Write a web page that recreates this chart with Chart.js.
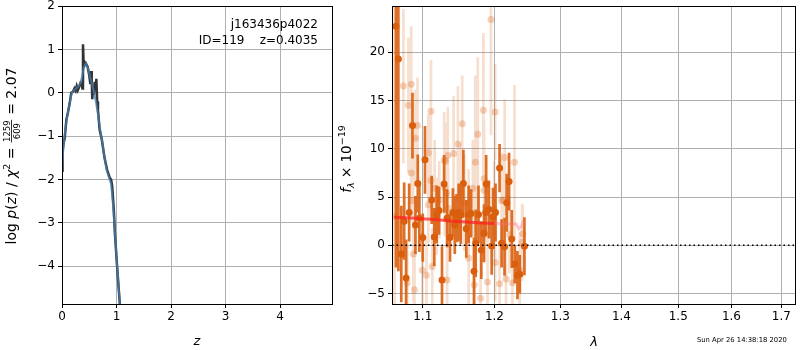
<!DOCTYPE html>
<html><head><meta charset="utf-8">
<script src="https://cdn.jsdelivr.net/npm/chart.js@4"></script>
<style>
html,body{margin:0;padding:0;background:#fff;width:800px;height:350px;overflow:hidden}
canvas{position:absolute;top:0}
</style></head><body>
<canvas id="c1" width="335" height="350" style="left:0px"></canvas>
<canvas id="c2" width="465" height="350" style="left:335px"></canvas>
<script>
// ---------- left panel: log p(z) ----------
const zRaw = [0, 0.01, 0.03, 0.05, 0.08, 0.11, 0.14, 0.17, 0.2, 0.23, 0.25, 0.27, 0.29, 0.31, 0.34, 0.36, 0.375, 0.385, 0.395, 0.41, 0.435, 0.47, 0.5, 0.52, 0.535, 0.545, 0.555, 0.57, 0.585, 0.6, 0.615, 0.63, 0.645, 0.66, 0.69, 0.73, 0.78, 0.826, 0.875, 0.9, 0.92, 0.95, 0.97, 1.01, 1.06, 1.09];
const pRaw = [-1.8, -1.35, -1.15, -1.05, -0.62, -0.45, -0.25, 0.0, 0.02, 0.1, 0.05, 0.15, 0.06, 0.12, 0.23, 0.2, 0.1, 1.12, 0.75, 0.62, 0.68, 0.6, 0.4, 0.2, 0.5, 0.3, -0.15, 0.1, -0.05, 0.25, 0.05, 0.32, -0.2, -0.4, -0.85, -1.08, -1.5, -1.77, -1.96, -2.0, -2.15, -2.7, -3.23, -4.0, -4.86, -5.3];
const zSmooth = [0, 0.03, 0.06, 0.1, 0.14, 0.18, 0.22, 0.26, 0.30, 0.34, 0.38, 0.41, 0.44, 0.47, 0.50, 0.54, 0.58, 0.62, 0.66, 0.70, 0.74, 0.78, 0.82, 0.86, 0.90, 0.93, 0.96, 1.0, 1.04, 1.08];
const pSmooth = [-1.75, -1.2, -0.85, -0.5, -0.25, 0.0, 0.05, 0.1, 0.15, 0.22, 0.45, 0.62, 0.68, 0.6, 0.45, 0.25, 0.05, -0.2, -0.5, -0.85, -1.15, -1.5, -1.8, -1.95, -2.1, -2.5, -3.0, -3.8, -4.5, -5.2];
const zTicks = [0, 1, 2, 3, 4];
const pTicks = [-4, -3, -2, -1, 0, 1, 2];

// ---------- right panel: spectrum ----------
const lamDark = [1.0648, 1.0679, 1.0717, 1.0755, 1.078, 1.082, 1.0864, 1.0903, 1.0934, 1.0955, 1.1, 1.103, 1.112, 1.1155, 1.1187, 1.122, 1.126, 1.1289, 1.133, 1.137, 1.141, 1.1436, 1.146, 1.149, 1.152, 1.1556, 1.1597, 1.163, 1.1665, 1.1706, 1.173, 1.177, 1.181, 1.185, 1.1875, 1.188, 1.192, 1.196, 1.198, 1.2016, 1.2075, 1.2105, 1.2148, 1.218, 1.2215, 1.2255, 1.230, 1.234, 1.2375, 1.2445];
const fDark = [22.7, 19.3, -0.9, 2.5, -3.4, 3.4, 12.4, 2.1, 6.4, 2.8, 0.8, 8.85, 4.7, 0.85, 3.2, 3.6, -3.6, 6.36, 2.8, 0.8, 3.4, 2.1, 2.8, 3.4, 3.14, 6.4, 1.7, 3.2, 3.3, -2.7, 0.2, 3.2, -0.5, 1.24, 3.4, 6.36, 3.7, -0.07, 2.97, 3.4, 8.0, 0.2, -0.15, 4.4, 6.6, 0.65, -1.95, -3.1, -3.0, -0.1];
const eDark = [25, 22, 5, 4, 4, 3, 3.4, 3, 3, 3.5, 2.5, 3.5, 2.5, 3, 3, 2.5, 3.5, 3, 3, 2.5, 2.5, 3, 2.5, 3, 3, 3.5, 3, 3, 2.5, 3.5, 3.5, 3, 3, 3, 2.5, 3, 3, 3, 3, 3, 2.5, 2.5, 3, 3, 3, 3, 2, 2.5, 2, 3];

const lamLight = [1.063, 1.0745, 1.081, 1.0847, 1.0847, 1.0873, 1.0876, 1.0795, 1.089, 1.0903, 1.093, 1.0995, 1.105, 1.1075, 1.1075, 1.111, 1.111, 1.1128, 1.116, 1.119, 1.1223, 1.129, 1.13, 1.131, 1.132, 1.133, 1.134, 1.1345, 1.142, 1.148, 1.152, 1.154, 1.157, 1.163, 1.163, 1.169, 1.171, 1.1725, 1.176, 1.18, 1.184, 1.185, 1.185, 1.190, 1.195, 1.1996, 1.201, 1.201, 1.2075, 1.2106, 1.2126, 1.215, 1.217, 1.222, 1.2265, 1.2295, 1.2375, 1.241, 1.242];
const fLight = [3, 16.5, 14.5, 16.7, 7.5, 4.6, -0.9, -3.9, -4.6, 11.1, 12.4, -2.6, -3.1, 9.6, 4.2, 13.9, 6.7, -2.2, 5.9, 3.0, 4.7, 8.8, 5.9, 8.7, 5.4, -3.6, 9.3, 3.8, 9.5, 10.5, 5.6, 12.6, 4.4, -1.35, 2.9, 5.9, -4.1, 8.6, 11.5, -5.5, 14.0, 6.9, 5.7, -3.8, 23.4, 3.7, 13.8, -1.8, -4.0, 4.6, 4.7, 9.1, -3.5, 1.1, -3.9, 8.6, -2.6, 0.3, 1.2];
const eLight = [30, 8, 7, 6, 5, 5, 5, 4, 4, 5, 5, 4, 4, 4, 4, 5.3, 4, 4, 5, 4, 4, 5, 5, 4, 4, 4, 5, 4, 6, 6, 5, 5, 5, 5, 5, 5, 4, 9, 8, 5, 8, 6, 5, 5, 12, 5, 5, 4, 4, 5, 4, 6, 4, 4, 4, 8, 4, 4, 3];

const lamModel = [1.0625, 1.08, 1.1, 1.12, 1.14, 1.16, 1.18, 1.2];
const fModel = [2.9, 2.85, 2.75, 2.65, 2.5, 2.4, 2.3, 2.25];
const lamModel2 = [1.2, 1.215, 1.232, 1.236, 1.2403, 1.2436];
const fModel2 = [2.25, 2.2, 2.2, 1.7, 2.0, 2.6];
const lamTicks = [1.1, 1.2, 1.3, 1.4, 1.5, 1.6, 1.7];
const fTicks = [-5, 0, 5, 10, 15, 20];

const FONT = 'DejaVu Sans';
const pts = (xs, ys) => xs.map((x, i) => ({x: x, y: ys[i]}));
function errSegs(xs, ys, es) {
  const out = [];
  xs.forEach((x, i) => { out.push({x: x, y: ys[i] - es[i]}, {x: x, y: ys[i] + es[i]}, {x: x, y: null}); });
  return out;
}
const fmtNum = v => String(v).replace('-', '\u2212');

function axis(type, min, max, ticks, fit, fmt) {
  return {
    type: type, min: min, max: max,
    afterBuildTicks: s => { s.ticks = ticks.map(v => ({value: v})); },
    afterFit: s => { fit(s); s.paddingTop = 0; s.paddingBottom = 0; s.paddingLeft = 0; s.paddingRight = 0; },
    grid: {color: '#b0b0b0', lineWidth: 1, tickColor: '#000', tickLength: 4, drawTicks: true},
    border: {display: false},
    ticks: {color: '#000', font: {family: FONT, size: 12, lineHeight: 1.0}, padding: 3, maxRotation: 0, autoSkip: false, callback: fmt}
  };
}

const frame = {
  id: 'frame',
  afterDatasetsDraw(chart) {
    const a = chart.chartArea, ctx = chart.ctx;
    ctx.save(); ctx.strokeStyle = '#000'; ctx.lineWidth = 1;
    ctx.strokeRect(Math.round(a.left) + 0.5, Math.round(a.top) + 0.5, Math.round(a.right - a.left) - 1, Math.round(a.bottom - a.top));
    ctx.restore();
  }
};

function drawPieces(ctx, pieces) {
  let w = 0;
  pieces.forEach(p => { ctx.font = p.f; p.w = ctx.measureText(p.t).width; w += p.w; });
  let x = -w / 2;
  pieces.forEach(p => { ctx.font = p.f; ctx.fillText(p.t, x, p.dy || 0); x += p.w; });
}

const leftText = {
  id: 'leftText',
  afterDraw(chart) {
    const ctx = chart.ctx;
    ctx.save(); ctx.fillStyle = '#000';
    ctx.font = '12px ' + FONT; ctx.textAlign = 'right'; ctx.textBaseline = 'alphabetic';
    ctx.fillText('j163436p4022', 318, 28);
    ctx.fillText('ID=119    z=0.4035', 318, 44);
    ctx.textAlign = 'center';
    ctx.font = 'italic 13px ' + FONT;
    ctx.fillText('z', 197, 345);
    // y label
    ctx.translate(16, 156); ctx.rotate(-Math.PI / 2);
    ctx.textAlign = 'left';
    const n = '14px ' + FONT, it = 'italic 14px ' + FONT, sm = '9.5px ' + FONT, fr = '8.5px ' + FONT;
    const pieces = [
      {t: 'log ', f: n}, {t: 'p', f: it}, {t: '(', f: n}, {t: 'z', f: it}, {t: ') / ', f: n},
      {t: '\u03c7', f: it}, {t: '2', f: sm, dy: -6}, {t: ' = ', f: n}
    ];
    let w = 0;
    pieces.forEach(p => { ctx.font = p.f; p.w = ctx.measureText(p.t).width; w += p.w; });
    ctx.font = fr; const fw = Math.max(ctx.measureText('1259').width, ctx.measureText('609').width) + 2;
    ctx.font = n; const tw = ctx.measureText(' = 2.07').width;
    let x = -(w + fw + tw) / 2;
    pieces.forEach(p => { ctx.font = p.f; ctx.fillText(p.t, x, p.dy || 0); x += p.w; });
    ctx.font = fr; ctx.textAlign = 'center';
    ctx.fillText('1259', x + fw / 2, -6.5);
    ctx.fillText('609', x + fw / 2, 3.5);
    ctx.fillRect(x + 0.5, -4.8, fw - 1, 0.8);
    x += fw;
    ctx.textAlign = 'left'; ctx.font = n; ctx.fillText(' = 2.07', x, 0);
    ctx.restore();
  }
};

const rightText = {
  id: 'rightText',
  afterDraw(chart) {
    const ctx = chart.ctx, off = 335;
    ctx.save(); ctx.fillStyle = '#000';
    ctx.textAlign = 'center'; ctx.textBaseline = 'alphabetic';
    ctx.font = 'italic 13px ' + FONT;
    ctx.fillText('\u03bb', 594 - off, 346);
    ctx.font = '6.8px ' + FONT; ctx.textAlign = 'left';
    ctx.fillText('Sun Apr 26 14:38:18 2020', 697 - off, 342);
    ctx.translate(351 - off, 159); ctx.rotate(-Math.PI / 2);
    ctx.textAlign = 'left';
    const n = '13.5px ' + FONT, it = 'italic 13.5px ' + FONT, sm = 'italic 9.5px ' + FONT, sn = '9.5px ' + FONT;
    drawPieces(ctx, [{t: 'f', f: it}, {t: '\u03bb', f: sm, dy: 3}, {t: ' \u00d7 10', f: n}, {t: '\u221219', f: sn, dy: -6}]);
    ctx.restore();
  }
};

const common = {
  responsive: false, animation: false, events: [],
  plugins: {legend: {display: false}, tooltip: {enabled: false}}
};

new Chart(document.getElementById('c1'), {
  type: 'line',
  data: {datasets: [
    {data: pts(zSmooth, pSmooth), borderColor: 'rgba(70,130,180,0.75)', borderWidth: 2, pointRadius: 0, tension: 0},
    {data: pts(zRaw, pRaw), borderColor: '#333333', borderWidth: 2.5, pointRadius: 0, tension: 0}
  ]},
  options: Object.assign({}, common, {
    layout: {padding: {top: 6, right: 2, left: 0, bottom: 0}},
    scales: {
      x: axis('linear', 0, 4.97, zTicks, s => { s.height = 46; }, v => fmtNum(v)),
      y: axis('linear', -4.87, 2, pTicks, s => { s.width = 62; }, v => fmtNum(v))
    }
  }),
  plugins: [frame, leftText]
});

const dark = '#d95f0e';
new Chart(document.getElementById('c2'), {
  type: 'line',
  data: {datasets: [
    {data: [{x: 1.0597, y: 0}, {x: 1.7304, y: 0}], borderColor: '#000', borderWidth: 1.5, borderDash: [1.5, 3], pointRadius: 0},
    {data: pts(lamModel, fModel), borderColor: 'rgba(255,30,30,0.7)', borderWidth: 3, pointRadius: 0},
    {data: pts(lamModel2, fModel2), borderColor: 'rgba(255,110,130,0.4)', borderWidth: 3, pointRadius: 0},
    {data: pts(lamDark, fDark), showLine: false, pointRadius: 3.5, pointBorderWidth: 0, pointBackgroundColor: dark},
    {data: errSegs(lamDark, fDark, eDark), borderColor: 'rgba(217,95,14,0.9)', borderWidth: 2.7, pointRadius: 0, spanGaps: false},
    {data: pts(lamLight, fLight), showLine: false, pointRadius: 3.5, pointBorderWidth: 0, pointBackgroundColor: 'rgba(217,95,14,0.28)'},
    {data: errSegs(lamLight, fLight, eLight), borderColor: 'rgba(217,95,14,0.2)', borderWidth: 2.7, pointRadius: 0, spanGaps: false}
  ]},
  options: Object.assign({}, common, {
    layout: {padding: {top: 6, right: 1, left: 0, bottom: 0}},
    scales: {
      x: axis('logarithmic', 1.0597, 1.7304, lamTicks, s => { s.height = 46; }, v => Number(v).toFixed(1)),
      y: axis('linear', -6.09, 24.8, fTicks, s => { s.width = 57; }, v => fmtNum(v))
    }
  }),
  plugins: [frame, rightText]
});
</script></body></html>
